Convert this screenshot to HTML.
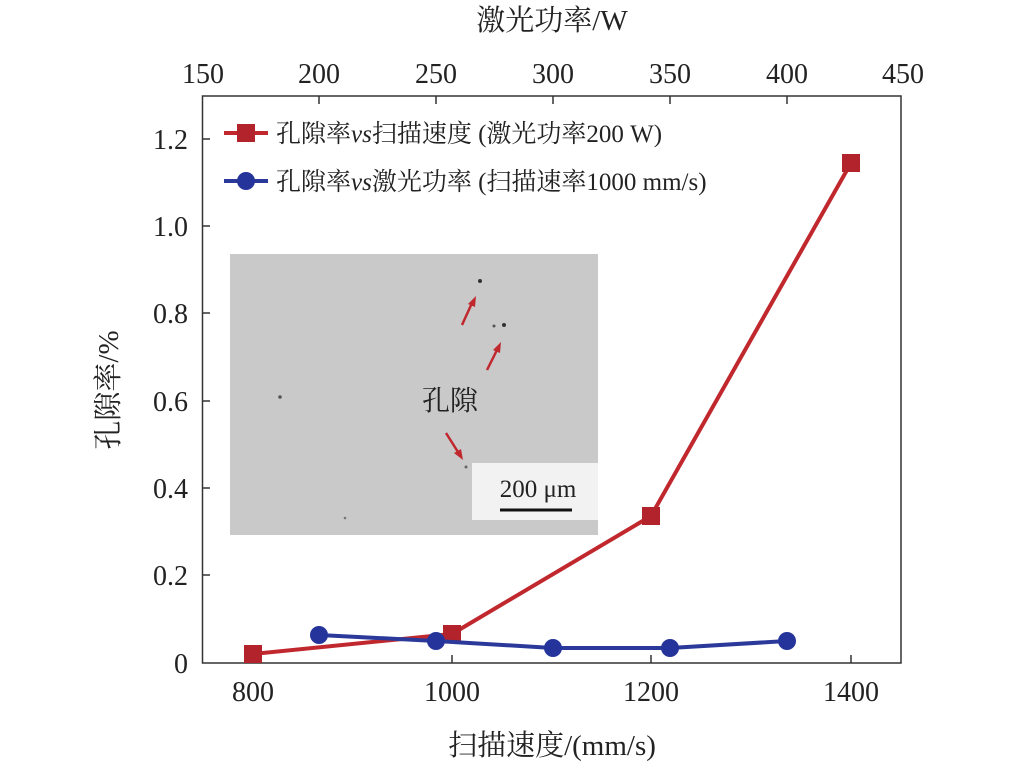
<!DOCTYPE html>
<html><head><meta charset="utf-8"><style>
html,body{margin:0;padding:0;background:#fff;}
text{font-family:"Liberation Serif","Noto Serif CJK SC","Noto Sans CJK SC",serif;fill:#222;}
</style></head><body>
<svg width="1017" height="768" viewBox="0 0 1017 768" xmlns="http://www.w3.org/2000/svg">
<rect x="230" y="254" width="368" height="281" fill="#c9c9c9"/>
<rect x="472" y="463" width="126" height="57" fill="#f2f2f2"/>
<text x="538" y="497" font-size="25" text-anchor="middle">200 μm</text>
<line x1="500" y1="510" x2="572" y2="510" stroke="#111" stroke-width="3"/>
<text x="450" y="410" font-size="28" text-anchor="middle">孔隙</text>
<circle cx="480" cy="281" r="2" fill="#333"/><circle cx="504" cy="325" r="2" fill="#333"/><circle cx="494" cy="326" r="1.5" fill="#555"/>
<circle cx="280" cy="397" r="1.8" fill="#555"/><circle cx="466" cy="467" r="1.5" fill="#666"/><circle cx="345" cy="518" r="1.3" fill="#777"/>
<g stroke="#c0282e" stroke-width="2.5" fill="#c0282e">
<line x1="462" y1="325" x2="472" y2="303"/><polygon points="476,296 468,304 475,307" stroke="none"/>
<line x1="487" y1="370" x2="497" y2="350"/><polygon points="501,342 493,350 500,353" stroke="none"/>
<line x1="446" y1="433" x2="458" y2="452"/><polygon points="463,460 454,453 461,449" stroke="none"/>
</g>
<rect x="202.5" y="96" width="698.5" height="567" fill="none" stroke="#333" stroke-width="1.5"/>
<g stroke="#333" stroke-width="1.5">
<line x1="452" y1="663" x2="452" y2="655"/><line x1="651" y1="663" x2="651" y2="655"/><line x1="851" y1="663" x2="851" y2="655"/>
<line x1="319" y1="96" x2="319" y2="104"/><line x1="436" y1="96" x2="436" y2="104"/><line x1="553" y1="96" x2="553" y2="104"/><line x1="670" y1="96" x2="670" y2="104"/><line x1="787" y1="96" x2="787" y2="104"/>
<line x1="202" y1="575" x2="210" y2="575"/><line x1="202" y1="488" x2="210" y2="488"/><line x1="202" y1="401" x2="210" y2="401"/><line x1="202" y1="313" x2="210" y2="313"/><line x1="202" y1="226" x2="210" y2="226"/><line x1="202" y1="139" x2="210" y2="139"/>
</g>
<g font-size="28" text-anchor="middle">
<text x="253" y="701">800</text><text x="452" y="701">1000</text><text x="651" y="701">1200</text><text x="851" y="701">1400</text>
<text x="203" y="83">150</text><text x="319" y="83">200</text><text x="436" y="83">250</text><text x="553" y="83">300</text><text x="670" y="83">350</text><text x="787" y="83">400</text><text x="903" y="83">450</text>
</g>
<g font-size="28" text-anchor="end">
<text x="188" y="673">0</text><text x="188" y="585">0.2</text><text x="188" y="498">0.4</text><text x="188" y="411">0.6</text><text x="188" y="323">0.8</text><text x="188" y="236">1.0</text><text x="188" y="149">1.2</text>
</g>
<text x="552" y="30" font-size="29" text-anchor="middle">激光功率/W</text>
<text x="552" y="755" font-size="29" text-anchor="middle">扫描速度/(mm/s)</text>
<text transform="translate(118,390) rotate(-90)" font-size="29" text-anchor="middle">孔隙率/%</text>
<polyline points="253,654 452,634 651,516 851,163" fill="none" stroke="#c0282e" stroke-width="4"/>
<g fill="#b3232b">
<rect x="244" y="645" width="18" height="18"/><rect x="443" y="625" width="18" height="18"/><rect x="642" y="507" width="18" height="18"/><rect x="842" y="154" width="18" height="18"/>
</g>
<polyline points="319,635 436,641 553,648 670,648 787,641" fill="none" stroke="#2b3a9a" stroke-width="4"/>
<g fill="#25349a">
<circle cx="319" cy="635" r="9"/><circle cx="436" cy="641" r="9"/><circle cx="553" cy="648" r="9"/><circle cx="670" cy="648" r="9"/><circle cx="787" cy="641" r="9"/>
</g>
<line x1="224" y1="133" x2="268" y2="133" stroke="#c0282e" stroke-width="4"/>
<rect x="237" y="124" width="18" height="18" fill="#b3232b"/>
<text x="276" y="142" font-size="25">孔隙率<tspan font-style="italic">vs</tspan>扫描速度 (激光功率200 W)</text>
<line x1="224" y1="181" x2="268" y2="181" stroke="#2b3a9a" stroke-width="4"/>
<circle cx="246" cy="181" r="9" fill="#25349a"/>
<text x="276" y="190" font-size="25">孔隙率<tspan font-style="italic">vs</tspan>激光功率 (扫描速率1000 mm/s)</text>
</svg>
</body></html>
